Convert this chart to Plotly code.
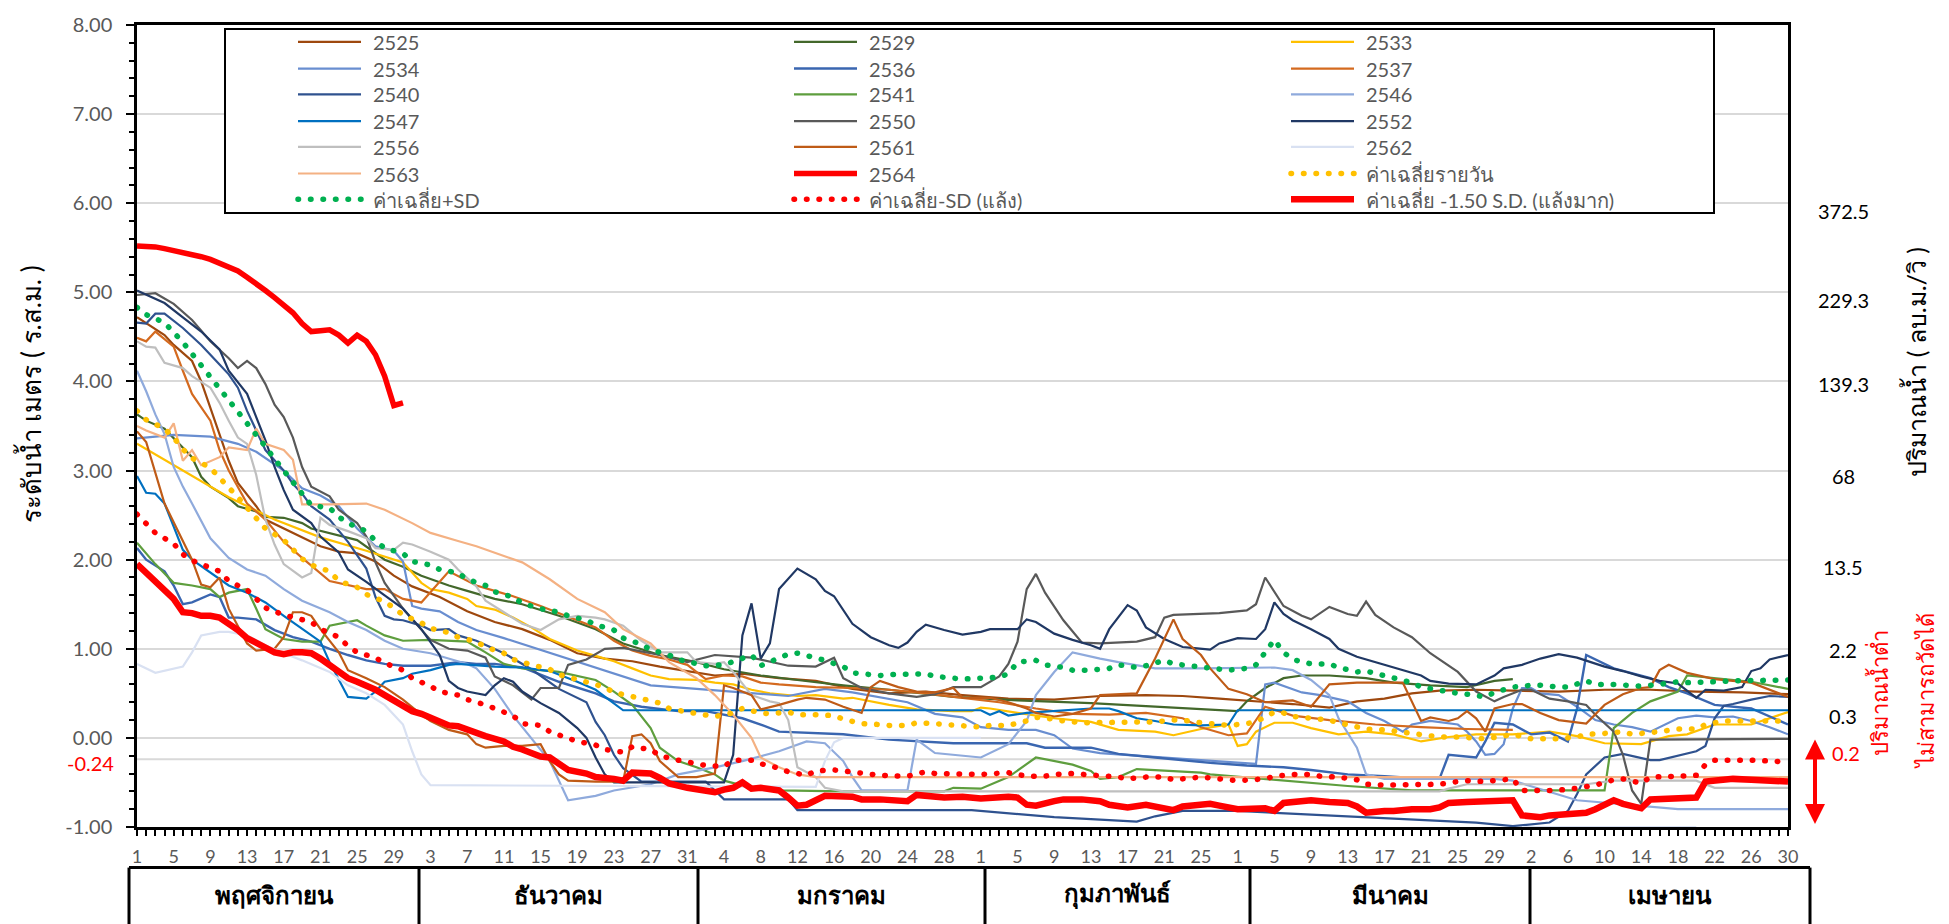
import plotly.graph_objects as go

# ---------------- axis labels ----------------
tick_days = list(range(0, 181, 4))
tick_labels = ["1", "5", "9", "13", "17", "21", "25", "29",
               "3", "7", "11", "15", "19", "23", "27", "31",
               "4", "8", "12", "16", "20", "24", "28",
               "1", "5", "9", "13", "17", "21", "25",
               "1", "5", "9", "13", "17", "21", "25", "29",
               "2", "6", "10", "14", "18", "22", "26", "30"]
y_ticks = [-1, 0, 1, 2, 3, 4, 5, 6, 7, 8]
y_tick_text = ["-1.00", "0.00", "1.00", "2.00", "3.00", "4.00", "5.00", "6.00", "7.00", "8.00"]
months = ["พฤศจิกายน", "ธันวาคม", "มกราคม", "กุมภาพันธ์", "มีนาคม", "เมษายน"]
flow_labels = ["372.5", "229.3", "139.3", "68", "13.5", "2.2", "0.3"]
low_flow_label = "0.2"
ref_level = -0.24

# ---------------- series (day index from 1 Nov, level m) ----------------
s2525 = [(0,4.72),(1,4.65),(3,4.52),(4,4.41),(6,4.23),(7,4.0),(8,3.71),(9,3.41),(10,3.11),(11,2.86),(13,2.6),(14,2.45),
         (16,2.35),(18,2.25),(20,2.15),(22,2.09),(24,2.07),(26,1.98),(28,1.82),(30,1.70),(33,1.58),(36,1.42),(39,1.30),
         (42,1.22),(45,1.10),(48,0.95),(51,0.89),(54,0.86),(57,0.80),(60,0.75),(63,0.70),(66,0.72),(70,0.67),(74,0.64),
         (78,0.55),(82,0.50),(86,0.52),(90,0.48),(95,0.44),(100,0.43),(105,0.47),(110,0.48),(114,0.47),(118,0.44),
         (122,0.41),(126,0.38),(130,0.34),(133,0.41),(136,0.44),(139,0.50),(142,0.53),(146,0.54),(150,0.53),(155,0.52),
         (160,0.54),(165,0.54),(170,0.52),(175,0.51),(180,0.49)]
s2529 = [(0,3.63),(1,3.56),(3,3.47),(4,3.36),(6,3.15),(7,2.93),(8,2.82),(10,2.69),(11,2.60),(13,2.54),(14,2.48),(16,2.47),
         (18,2.41),(19,2.35),(21,2.30),(24,2.22),(27,2.0),(29,1.92),(31,1.82),(34,1.71),(36,1.65),(39,1.56),(42,1.50),
         (46,1.37),(50,1.22),(53,1.06),(57,0.93),(61,0.85),(64,0.77),(68,0.70),(72,0.65),(77,0.59),(82,0.54),(89,0.46),
         (96,0.42),(104,0.39),(111,0.35),(117,0.32),(120,0.30),(121,0.41),(123,0.56),(125,0.67),(127,0.70),(130,0.70),
         (134,0.67),(137,0.62),(141,0.59),(145,0.57),(148,0.64),(150,0.66)]
s2533 = [(0,3.30),(5,3.0),(10,2.70),(15,2.45),(20,2.25),(25,2.10),(29,1.97),(31,1.74),(32,1.67),(34,1.63),(36,1.56),
         (37,1.48),(39,1.44),(41,1.35),(43,1.24),(45,1.11),(48,0.98),(50,0.92),(52,0.86),(54,0.78),(56,0.70),(58,0.66),
         (61,0.65),(63,0.62),(65,0.60),(67,0.54),(69,0.50),(72,0.47),(74,0.48),(77,0.44),(78,0.45),(82,0.37),(85,0.32),
         (89,0.30),(91,0.30),(92,0.34),(93,0.33),(96,0.28),(100,0.22),(104,0.18),(107,0.09),(111,0.07),(113,0.03),
         (116,0.10),(119,0.15),(120,-0.09),(121,-0.07),(122,0.07),(124,0.17),(126,0.17),(128,0.11),(131,0.04),(134,0.07),
         (137,0.04),(140,-0.04),(143,0.01),(146,0.04),(150,0.04),(154,0.07),(157,0.02),(160,-0.06),(164,-0.07),(167,0.02),
         (169,0.04),(172,0.15),(176,0.15),(180,0.29)]
s2534 = [(0,3.36),(4,3.40),(8,3.38),(11,3.30),(13,3.21),(16,3.0),(18,2.80),(20,2.72),(22,2.60),(24,2.35),(26,2.15),
         (28,2.10),(29,1.98),(30,1.48),(31,1.45),(33,1.42),(35,1.30),(37,1.21),(40,1.12),(43,1.02),(46,0.92),(49,0.82),
         (52,0.72),(56,0.59),(61,0.55),(66,0.51),(71,0.47),(75,0.55),(78,0.51),(84,0.40),(87,0.27),(90,0.23),(92,0.12),
         (95,0.09),(98,0.09),(100,0.03),(102,-0.12),(105,-0.17),(110,-0.21),(116,-0.25),(122,-0.29),(123,0.60),(124,0.62),
         (127,0.51),(129,0.48),(132,0.41),(134,0.28),(136,0.19),(138,0.07),(139,0.15),(141,0.19),(144,0.15),(145,0.07),
         (146,-0.04),(147,-0.19),(148,-0.18),(149,-0.07),(150,0.33),(151,0.56),(152,0.56),(153,0.50),(155,0.48),(157,0.35),
         (159,0.20),(161,0.15),(163,0.12),(165,0.07),(168,0.22),(170,0.25),(172,0.23),(174,0.24),(176,0.19),(178,0.12),(180,0.04)]
s2536 = [(0,2.13),(1,2.0),(3,1.87),(4,1.71),(5,1.50),(6,1.52),(8,1.61),(9,1.58),(10,1.35),(11,1.35),(13,1.33),(15,1.21),
         (17,1.13),(19,1.08),(21,1.0),(23,0.93),(25,0.87),(27,0.83),(29,0.81),(32,0.81),(35,0.85),(37,0.83),(39,0.83),
         (42,0.79),(46,0.63),(50,0.50),(52,0.41),(55,0.35),(59,0.30),(62,0.30),(66,0.22),(68,0.15),(70,0.07),(77,0.04),
         (82,-0.02),(89,-0.06),(97,-0.06),(99,-0.11),(104,-0.11),(107,-0.18),(111,-0.22),(114,-0.25),(117,-0.28),(121,-0.31),
         (125,-0.33),(128,-0.36),(132,-0.41),(136,-0.43),(139,-0.45),(142,-0.46),(143,-0.19),(146,-0.22),(147,-0.04),
         (148,0.17),(150,0.15),(152,0.04),(154,0.06),(156,-0.04),(157,0.33),(158,0.93),(161,0.78),(165,0.67),(167,0.57),
         (169,0.50),(172,0.37),(176,0.33),(180,0.15)]
s2537 = [(0,4.49),(1,4.45),(2,4.56),(4,4.39),(5,4.12),(6,3.86),(8,3.56),(9,3.23),(10,3.0),(11,2.82),(12,2.63),(14,2.45),
         (16,2.20),(18,2.02),(21,1.76),(25,1.67),(27,1.67),(29,1.56),(31,1.52),(34,1.87),(37,1.71),(39,1.65),(41,1.59),
         (44,1.48),(47,1.36),(50,1.24),(52,1.09),(54,0.98),(56,0.92),(58,0.88),(60,0.82),(62,0.66),(64,0.70),(66,0.69),
         (68,0.62),(70,0.60),(74,0.57),(78,0.56),(82,0.54),(86,0.50),(90,0.45),(94,0.40),(98,0.33),(102,0.27),(106,0.26),
         (110,0.28),(114,0.22),(116,0.12),(119,0.03),(121,0.05),(123,0.35),(126,0.25),(130,0.20),(135,0.15),(140,0.12),
         (145,0.10),(150,0.09)]
s2540 = [(0,4.66),(1,4.65),(2,4.76),(3,4.76),(5,4.60),(7,4.41),(9,4.19),(10,4.08),(11,3.93),(12,3.67),(13,3.45),(14,3.23),
         (16,3.0),(17,2.85),(18,2.74),(19,2.60),(21,2.45),(23,2.20),(25,1.90),(26,1.58),(27,1.37),(28,1.33),(29,1.32),
         (31,1.26),(32,1.21),(34,1.22),(35,1.15),(37,1.09),(40,0.95),(43,0.77),(46,0.55),(49,0.40),(50,0.18),(51,0.03),
         (52,-0.19),(53,-0.34),(55,-0.49),(62,-0.49),(64,-0.69),(71,-0.69),(72,-0.81),(91,-0.81),(100,-0.89),(109,-0.94),
         (111,-0.88),(114,-0.82),(120,-0.82),(126,-0.85),(132,-0.88),(140,-0.92),(146,-0.95),(150,-0.99),(154,-0.95),
         (156,-0.82),(157,-0.63),(158,-0.41),(160,-0.22),(162,-0.18),(165,-0.25),(166,-0.25),(168,-0.20),(170,-0.15),
         (171,-0.09),(172,0.22),(173,0.36),(174,0.38),(176,0.43),(178,0.47),(180,0.46)]
s2541 = [(0,2.19),(2,1.95),(4,1.74),(6,1.71),(8,1.67),(9,1.58),(10,1.63),(12,1.67),(13,1.45),(14,1.22),(16,1.11),(18,1.08),
         (20,1.08),(21,1.26),(24,1.32),(25,1.26),(27,1.15),(29,1.09),(32,1.10),(34,1.09),(36,1.08),(37,1.02),(38,0.96),
         (40,0.83),(42,0.78),(46,0.74),(50,0.65),(52,0.52),(54,0.37),(56,0.11),(57,-0.11),(59,-0.26),(61,-0.33),(63,-0.41),
         (64,-0.48),(67,-0.56),(70,-0.59),(77,-0.60),(88,-0.60),(89,-0.56),(92,-0.57),(95,-0.44),(98,-0.22),(102,-0.30),
         (104,-0.37),(105,-0.46),(107,-0.44),(109,-0.35),(113,-0.37),(116,-0.39),(117,-0.41),(125,-0.48),(132,-0.54),
         (139,-0.59),(149,-0.59),(160,-0.59),(161,0.11),(163,0.28),(165,0.41),(168,0.52),(169,0.70),(172,0.67),(176,0.63),(180,0.55)]
s2546 = [(0,4.12),(1,3.89),(2,3.63),(3,3.41),(4,3.04),(5,2.82),(6,2.63),(8,2.24),(10,2.02),(12,1.89),(14,1.82),(16,1.67),
         (18,1.54),(21,1.41),(23,1.30),(25,1.21),(27,1.09),(29,1.0),(32,0.95),(34,0.89),(36,0.83),(37,0.78),(39,0.55),
         (41,0.25),(43,0.0),(45,-0.26),(47,-0.70),(50,-0.65),(52,-0.59),(56,-0.52),(59,-0.41),(63,-0.33),(66,-0.26),
         (70,-0.15),(73,-0.04),(75,-0.06),(77,-0.26),(78,-0.44),(79,-0.59),(84,-0.59),(85,-0.02),(87,-0.17),(92,-0.22),
         (95,-0.07),(97,0.19),(98,0.48),(100,0.74),(102,0.96),(105,0.89),(107,0.85),(111,0.78),(116,0.78),(124,0.79),
         (126,0.76),(128,0.65),(130,0.48),(131,0.22),(133,-0.11),(134,-0.41),(136,-0.46),(148,-0.46),(150,-0.48),
         (157,-0.70),(168,-0.80),(180,-0.80)]
s2547 = [(0,2.94),(1,2.75),(2,2.74),(3,2.63),(4,2.37),(5,2.11),(6,2.0),(8,1.85),(9,1.78),(10,1.71),(12,1.63),(14,1.52),
         (16,1.37),(18,1.22),(20,1.08),(21,0.85),(23,0.46),(25,0.44),(26,0.52),(27,0.63),(29,0.67),(30,0.72),(32,0.76),
         (34,0.82),(35,0.83),(39,0.80),(42,0.79),(45,0.75),(48,0.63),(50,0.54),(52,0.39),(53,0.31),(92,0.31),(93,0.26),
         (94,0.30),(95,0.25),(97,0.28),(100,0.30),(104,0.33),(106,0.33),(107,0.30),(109,0.22),(111,0.19),(113,0.15),
         (116,0.14),(119,0.15),(120,0.31),(180,0.31)]
s2550 = [(0,4.97),(2,4.99),(4,4.87),(6,4.69),(8,4.45),(10,4.26),(11,4.15),(12,4.23),(13,4.15),(14,3.97),(15,3.74),(16,3.60),
         (17,3.37),(18,3.04),(19,2.82),(21,2.71),(22,2.56),(24,2.41),(25,2.26),(26,1.97),(27,1.74),(28,1.59),(29,1.45),
         (30,1.33),(32,1.10),(34,1.0),(36,0.98),(38,0.90),(39,0.69),(41,0.59),(43,0.43),(44,0.56),(46,0.56),(47,0.82),
         (49,0.88),(51,1.0),(53,1.01),(57,0.93),(60,0.85),(63,0.93),(67,0.90),(71,0.81),(74,0.80),(76,0.90),(77,0.67),
         (79,0.56),(82,0.50),(85,0.46),(87,0.49),(89,0.57),(92,0.57),(94,0.69),(95,0.83),(96,1.08),(97,1.67),(98,1.84),
         (99,1.63),(101,1.32),(103,1.07),(105,1.06),(109,1.08),(111,1.13),(112,1.35),(113,1.38),(116,1.39),(118,1.40),
         (121,1.43),(122,1.50),(123,1.80),(125,1.48),(127,1.37),(128,1.33),(130,1.47),(132,1.39),(133,1.37),(134,1.53),
         (135,1.38),(137,1.24),(139,1.13),(141,0.95),(144,0.74),(146,0.52),(148,0.41),(149,0.46),(151,0.54),(152,0.54),
         (154,0.44),(156,0.41),(158,0.37),(159,0.26),(161,0.07),(162,-0.19),(163,-0.59),(164,-0.74),(165,-0.02),(180,-0.01)]
s2552 = [(0,5.02),(3,4.88),(5,4.72),(7,4.56),(9,4.36),(10,4.12),(12,3.86),(13,3.60),(14,3.34),(15,3.04),(16,2.78),(17,2.56),
         (19,2.41),(20,2.26),(22,2.08),(23,1.89),(25,1.75),(27,1.60),(29,1.45),(31,1.22),(32,1.08),(33,0.93),(34,0.64),
         (35,0.56),(36,0.52),(38,0.48),(39,0.59),(40,0.67),(41,0.63),(42,0.52),(44,0.39),(46,0.28),(48,0.11),(49,0.0),
         (50,-0.22),(51,-0.41),(52,-0.50),(64,-0.50),(65,-0.19),(66,1.15),(67,1.51),(68,0.89),(69,1.06),(70,1.67),(72,1.90),
         (74,1.78),(75,1.65),(76,1.59),(78,1.28),(80,1.13),(82,1.04),(83,1.01),(84,1.07),(85,1.19),(86,1.27),(88,1.21),
         (90,1.16),(92,1.19),(93,1.22),(96,1.22),(97,1.33),(98,1.30),(100,1.17),(102,1.10),(104,1.04),(105,1.00),(106,1.22),
         (108,1.49),(109,1.43),(110,1.24),(112,1.11),(114,1.02),(115,1.01),(117,0.99),(118,1.06),(120,1.12),(122,1.11),
         (123,1.22),(124,1.52),(125,1.39),(126,1.32),(128,1.22),(130,1.11),(131,1.0),(133,0.91),(135,0.85),(136,0.82),
         (138,0.76),(140,0.70),(141,0.64),(143,0.61),(146,0.60),(148,0.70),(149,0.78),(151,0.82),(153,0.89),(155,0.94),
         (157,0.90),(160,0.80),(162,0.75),(164,0.69),(166,0.64),(168,0.61),(170,0.45),(171,0.54),(173,0.53),(175,0.57),
         (176,0.75),(177,0.78),(178,0.88),(180,0.93)]
s2556 = [(0,4.45),(1,4.39),(2,4.38),(3,4.21),(5,4.15),(6,4.06),(8,3.93),(9,3.76),(10,3.56),(11,3.37),(12,3.30),(13,2.95),
         (14,2.45),(15,2.17),(16,1.95),(18,1.80),(19,1.85),(20,2.47),(21,2.39),(23,2.32),(25,2.24),(26,2.13),(28,2.11),
         (29,2.19),(30,2.17),(32,2.09),(34,2.0),(35,1.89),(37,1.70),(38,1.54),(40,1.41),(42,1.28),(44,1.21),(46,1.33),
         (48,1.37),(50,1.35),(51,1.33),(53,1.26),(55,1.09),(57,0.96),(60,0.96),(61,0.85),(63,0.83),(64,0.85),(65,0.74),
         (67,0.48),(69,0.41),(70,0.39),(71,0.20),(72,-0.33),(74,-0.44),(75,-0.56),(77,-0.60),(142,-0.60),(143,-0.57),
         (145,-0.52),(158,-0.52),(161,-0.48),(170,-0.48),(172,-0.56),(180,-0.56)]
s2561 = [(0,3.44),(1,3.32),(3,2.63),(5,2.22),(6,2.0),(7,1.72),(8,1.69),(9,1.80),(10,1.45),(12,1.06),(13,0.98),(15,1.00),
         (16,1.13),(17,1.41),(18,1.41),(19,1.37),(20,1.22),(22,0.96),(23,0.76),(25,0.67),(27,0.57),(29,0.43),(31,0.26),
         (32,0.19),(34,0.09),(36,0.04),(37,-0.07),(38,-0.11),(40,-0.09),(42,-0.09),(44,-0.07),(45,-0.26),(46,-0.41),
         (47,-0.48),(50,-0.49),(53,-0.49),(54,0.02),(55,0.04),(56,-0.06),(57,-0.26),(59,-0.44),(61,-0.44),(63,-0.40),
         (64,0.59),(65,0.56),(67,0.48),(68,0.32),(70,0.37),(72,0.43),(73,0.45),(75,0.43),(77,0.35),(79,0.28),(80,0.57),
         (81,0.64),(83,0.57),(85,0.52),(87,0.51),(89,0.56),(90,0.45),(93,0.45),(95,0.40),(97,0.33),(98,0.28),(100,0.24),
         (102,0.27),(104,0.33),(105,0.48),(107,0.49),(109,0.50),(111,0.89),(113,1.33),(114,1.11),(116,0.93),(117,0.78),
         (119,0.55),(121,0.49),(123,0.40),(126,0.42),(128,0.35),(130,0.60),(133,0.62),(138,0.62),(140,0.19),(141,0.23),
         (143,0.19),(144,0.22),(145,0.30),(146,0.22),(147,0.07),(148,0.33),(150,0.38),(151,0.38),(153,0.28),(155,0.20),
         (158,0.16),(160,0.37),(162,0.49),(164,0.56),(165,0.57),(166,0.76),(167,0.82),(169,0.73),(172,0.66),(176,0.62),
         (178,0.54),(180,0.46)]
s2562 = [(0,0.83),(2,0.73),(5,0.80),(6,0.96),(7,1.15),(9,1.19),(10,1.19),(12,1.15),(14,1.04),(16,0.95),(18,0.87),(21,0.74),
         (23,0.59),(25,0.50),(27,0.37),(29,0.15),(30,-0.15),(31,-0.41),(32,-0.53),(74,-0.55),(75,-0.26),(76,-0.05),(77,0.0),
         (92,0.0),(93,None),(151,-1.0),(170,-1.0)]
s2563 = [(0,3.50),(1,3.45),(3,3.37),(4,3.53),(5,3.11),(6,3.23),(7,3.06),(9,3.15),(10,3.26),(12,3.23),(13,3.47),(14,3.30),
         (16,3.23),(17,3.12),(18,2.62),(21,2.62),(25,2.63),(27,2.56),(30,2.41),(32,2.30),(35,2.21),(37,2.15),(42,1.97),
         (45,1.78),(48,1.56),(51,1.41),(53,1.22),(56,1.06),(58,0.85),(61,0.67),(63,0.48),(65,0.26),(67,0.0),(68,-0.22),
         (70,-0.33),(72,-0.41),(74,-0.44),(180,-0.44)]
s2564 = [(0,5.52),(1,5.52),(2,5.51),(3,5.49),(4,5.47),(5,5.45),(6,5.42),(7,5.40),(8,5.37),(9,5.33),(10,5.29),(11,5.24),
         (12,5.17),(13,5.10),(14,5.02),(15,4.94),(16,4.86),(17,4.77),(18,4.65),(19,4.56),(20,4.57),(21,4.58),(22,4.52),
         (23,4.43),(24,4.52),(25,4.45),(26,4.30),(27,4.06),(28,3.73),(29,3.76)]
avg_daily = [(0,3.67),(1,3.57),(3,3.47),(4,3.37),(5,3.24),(6,3.14),(8,3.03),(9,2.93),(10,2.81),(11,2.70),(12,2.59),(13,2.48),
             (14,2.35),(16,2.22),(17,2.12),(18,2.01),(19,1.94),(21,1.87),(22,1.76),(24,1.69),(25,1.61),(27,1.53),(28,1.46),
             (29,1.38),(31,1.29),(32,1.23),(34,1.18),(35,1.13),(37,1.08),(38,1.02),(40,0.95),(41,0.88),(43,0.82),(45,0.77),
             (46,0.71),(48,0.66),(49,0.62),(51,0.57),(52,0.51),(54,0.47),(55,0.44),(57,0.39),(58,0.33),(60,0.29),(62,0.26),
             (63,0.24),(65,0.28),(66,0.33),(68,0.28),(69,0.27),(71,0.29),(72,0.26),(74,0.26),(76,0.25),(77,0.21),(79,0.16),
             (81,0.15),(82,0.14),(84,0.14),(85,0.17),(87,0.16),(89,0.15),(90,0.14),(92,0.12),(93,0.14),(95,0.14),(97,0.19),
             (98,0.23),(100,0.21),(101,0.19),(103,0.17),(106,0.17),(108,0.18),(109,0.17),(111,0.18),(113,0.20),(114,0.20),
             (116,0.17),(118,0.16),(119,0.14),(121,0.16),(122,0.18),(124,0.29),(125,0.28),(126,0.24),(128,0.22),(130,0.20),
             (131,0.17),(133,0.13),(134,0.10),(136,0.09),(138,0.06),(139,0.04),(141,0.02),(142,0.01),(144,0.01),(146,0.0),
             (147,-0.01),(149,0.02),(150,0.04),(152,-0.01),(155,-0.01),(157,0.01),(158,0.04),(160,0.05),(162,0.07),(163,0.04),
             (165,0.05),(166,0.07),(168,0.10),(170,0.10),(171,0.15),(173,0.19),(180,0.19)]
avg_plus_sd = [(0,4.83),(1,4.75),(3,4.66),(4,4.56),(5,4.44),(6,4.31),(7,4.18),(8,4.05),(9,3.92),(10,3.79),(11,3.66),(12,3.55),
               (13,3.42),(14,3.27),(15,3.13),(16,3.00),(17,2.87),(18,2.73),(19,2.61),(21,2.58),(22,2.48),(23,2.41),(25,2.32),
               (26,2.21),(27,2.13),(29,2.07),(30,1.98),(32,1.94),(33,1.89),(35,1.85),(36,1.78),(38,1.71),(39,1.64),(41,1.58),
               (42,1.51),(44,1.45),(46,1.41),(47,1.37),(49,1.32),(50,1.27),(52,1.21),(53,1.12),(55,1.05),(56,0.99),(58,0.93),
               (59,0.88),(61,0.84),(62,0.81),(64,0.82),(65,0.86),(67,0.93),(68,0.81),(69,0.85),(71,0.94),(72,0.95),(74,0.90),
               (75,0.87),(77,0.80),(78,0.73),(79,0.72),(81,0.70),(82,0.71),(84,0.72),(86,0.72),(87,0.69),(89,0.67),(90,0.66),
               (92,0.67),(94,0.68),(95,0.72),(96,0.85),(98,0.87),(99,0.82),(101,0.79),(102,0.76),(104,0.76),(106,0.78),
               (107,0.82),(109,0.79),(110,0.81),(112,0.87),(113,0.83),(115,0.81),(116,0.80),(118,0.77),(119,0.76),(121,0.78),
               (122,0.82),(123,0.96),(124,1.10),(125,0.96),(126,0.88),(128,0.83),(130,0.83),(131,0.79),(133,0.74),(134,0.75),
               (136,0.70),(137,0.66),(139,0.62),(140,0.57),(142,0.53),(144,0.50),(145,0.49),(147,0.46),(148,0.51),(150,0.57),
               (152,0.59),(153,0.59),(155,0.57),(156,0.57),(158,0.64),(159,0.60),(161,0.60),(163,0.59),(164,0.58),(166,0.60),
               (168,0.63),(169,0.62),(171,0.62),(172,0.63),(174,0.64),(177,0.64),(180,0.65)]
avg_minus_sd = [(0,2.51),(1,2.41),(2,2.30),(4,2.18),(5,2.06),(6,1.99),(8,1.92),(9,1.87),(10,1.76),(12,1.66),(13,1.56),
                (14,1.46),(16,1.38),(17,1.35),(19,1.30),(20,1.22),(22,1.13),(23,1.03),(24,0.96),(26,0.90),(27,0.84),(29,0.76),
                (30,0.67),(32,0.58),(33,0.52),(35,0.48),(36,0.43),(38,0.37),(39,0.33),(41,0.25),(42,0.16),(44,0.14),(45,0.07),
                (47,0.0),(48,-0.04),(50,-0.08),(51,-0.13),(53,-0.16),(54,-0.10),(56,-0.13),(57,-0.20),(59,-0.25),(61,-0.29),
                (62,-0.31),(64,-0.32),(65,-0.25),(67,-0.25),(68,-0.29),(70,-0.34),(71,-0.38),(73,-0.42),(74,-0.37),(76,-0.36),
                (78,-0.38),(79,-0.40),(81,-0.42),(84,-0.43),(86,-0.38),(87,-0.40),(92,-0.41),(95,-0.39),(97,-0.43),(99,-0.43),
                (100,-0.41),(102,-0.40),(105,-0.42),(107,-0.44),(108,-0.46),(110,-0.44),(112,-0.44),(113,-0.47),(115,-0.45),
                (116,-0.44),(118,-0.46),(120,-0.48),(123,-0.46),(124,-0.43),(126,-0.41),(128,-0.41),(129,-0.43),(131,-0.44),
                (133,-0.47),(134,-0.52),(136,-0.53),(141,-0.53),(142,-0.52),(144,-0.49),(145,-0.48),(147,-0.49),(149,-0.47),
                (150,-0.46),(151,-0.59),(153,-0.60),(154,-0.59),(156,-0.58),(158,-0.55),(159,-0.53),(161,-0.47),(162,-0.46),
                (164,-0.51),(165,-0.44),(168,-0.43),(170,-0.42),(171,-0.30),(172,-0.25),(176,-0.25),(178,-0.26),(180,-0.27)]
avg_minus_15sd = [(0,1.95),(1,1.85),(2,1.74),(3,1.65),(4,1.56),(5,1.41),(6,1.40),(7,1.37),(8,1.37),(9,1.35),(10,1.29),
                  (11,1.21),(12,1.12),(13,1.06),(14,1.00),(15,0.96),(16,0.94),(17,0.96),(18,0.96),(19,0.95),(20,0.89),(21,0.81),
                  (22,0.74),(23,0.67),(24,0.63),(25,0.59),(26,0.54),(27,0.48),(28,0.42),(29,0.36),(30,0.30),(31,0.27),(32,0.23),
                  (33,0.19),(34,0.14),(35,0.13),(36,0.09),(37,0.06),(38,0.02),(40,-0.04),(41,-0.10),(42,-0.13),(43,-0.18),
                  (44,-0.21),(45,-0.22),(46,-0.28),(47,-0.36),(49,-0.40),(50,-0.44),(52,-0.46),(53,-0.48),(54,-0.39),(56,-0.40),
                  (57,-0.45),(58,-0.51),(60,-0.56),(61,-0.58),(63,-0.61),(64,-0.58),(65,-0.56),(66,-0.50),(67,-0.57),(68,-0.56),
                  (70,-0.59),(71,-0.67),(72,-0.76),(73,-0.75),(74,-0.70),(75,-0.65),(78,-0.66),(79,-0.69),(81,-0.69),(83,-0.70),
                  (84,-0.71),(85,-0.64),(87,-0.67),(88,-0.67),(90,-0.66),(92,-0.68),(95,-0.66),(96,-0.67),(97,-0.75),(98,-0.76),
                  (100,-0.71),(101,-0.69),(103,-0.69),(105,-0.71),(106,-0.75),(108,-0.78),(110,-0.75),(111,-0.77),(113,-0.81),
                  (114,-0.77),(115,-0.76),(117,-0.74),(118,-0.76),(120,-0.80),(123,-0.79),(124,-0.82),(125,-0.73),(127,-0.72),
                  (128,-0.70),(130,-0.72),(132,-0.73),(133,-0.77),(134,-0.84),(136,-0.82),(137,-0.82),(139,-0.80),(141,-0.80),
                  (142,-0.78),(143,-0.73),(145,-0.72),(148,-0.71),(150,-0.70),(151,-0.87),(153,-0.89),(154,-0.87),(156,-0.85),
                  (158,-0.84),(159,-0.80),(160,-0.75),(161,-0.70),(162,-0.74),(164,-0.79),(165,-0.69),(167,-0.68),(170,-0.67),
                  (171,-0.49),(173,-0.47),(174,-0.46),(176,-0.47),(178,-0.48),(180,-0.49)]

# ---------------- styling table ----------------
DOT = "0.5px,12px"   # drawn with round caps (see post_script) -> round dots
series = [
    ("2525", s2525, "#9E480E", 2.2, "solid"),
    ("2529", s2529, "#43682B", 2.2, "solid"),
    ("2533", s2533, "#FFC000", 2.2, "solid"),
    ("2534", s2534, "#698ED0", 2.2, "solid"),
    ("2536", s2536, "#3A66B0", 2.4, "solid"),
    ("2537", s2537, "#D46A1F", 2.2, "solid"),
    ("2540", s2540, "#2F528F", 2.2, "solid"),
    ("2541", s2541, "#5E9E3E", 2.2, "solid"),
    ("2546", s2546, "#8FAADC", 2.2, "solid"),
    ("2547", s2547, "#0070C0", 2.2, "solid"),
    ("2550", s2550, "#595959", 2.2, "solid"),
    ("2552", s2552, "#203864", 2.2, "solid"),
    ("2556", s2556, "#BFBFBF", 2.2, "solid"),
    ("2561", s2561, "#BF5B17", 2.2, "solid"),
    ("2562", s2562, "#D9E1F2", 2.2, "solid"),
    ("2563", s2563, "#F4B183", 2.2, "solid"),
    ("2564", s2564, "#FF0000", 5.5, "solid"),
    ("ค่าเฉลี่ยรายวัน", avg_daily, "#FFC000", 5.5, DOT),
    ("ค่าเฉลี่ย+SD", avg_plus_sd, "#00B050", 5.5, DOT),
    ("ค่าเฉลี่ย-SD (แล้ง)", avg_minus_sd, "#FF0000", 5.5, DOT),
    ("ค่าเฉลี่ย -1.50 S.D. (แล้งมาก)", avg_minus_15sd, "#FF0000", 6.5, "solid"),
]
draw_order = list(range(16)) + [17, 18, 19, 20, 16]

FONT = "Lato, 'Noto Sans', 'DejaVu Sans', sans-serif"
GRAY = "#595959"

# ---------------- pixel helpers (plot area in pixels) ----------------
W, H = 1949, 924
PL, PR, PT, PB = 137, 1788, 17, 827
def px(xp):
    return (xp - PL) / (PR - PL)
def py(yp):
    return (PB - yp) / (PB - PT)

fig = go.Figure()
for i in draw_order:
    name, data, color, width, dash = series[i]
    fig.add_trace(go.Scatter(
        x=[d for d, v in data], y=[v for d, v in data], mode="lines", name=name,
        line=dict(color=color, width=width, dash=dash), showlegend=False,
        connectgaps=False, hoverinfo="skip"))

shapes = []
annotations = []

def text_at(x, y, text, size, color, angle=0, xanchor="center"):
    annotations.append(dict(xref="paper", yref="paper", x=px(x), y=py(y), text=text, textangle=angle,
                            showarrow=False, xanchor=xanchor, yanchor="middle",
                            font=dict(family=FONT, size=size, color=color)))

# reference gridline at -0.24
shapes.append(dict(type="line", xref="paper", yref="y", x0=0, x1=1, y0=ref_level, y1=ref_level,
                   line=dict(color="#D9D9D9", width=2), layer="below"))
annotations.append(dict(xref="paper", yref="y", x=px(116), y=ref_level - 0.04, text=f"{ref_level:.2f}",
                        showarrow=False, xanchor="right", yanchor="middle",
                        font=dict(family=FONT, size=20, color="#FF0000")))

# legend box
shapes.append(dict(type="rect", xref="paper", yref="paper", x0=px(225), x1=px(1714), y0=py(207), y1=py(21),
                   line=dict(color="black", width=2), fillcolor="white", layer="above"))
col_line_x = [295, 791, 1288]
row_y = [34, 61, 87, 114, 140, 167, 193]
for k, (name, data, color, width, dash) in enumerate(series):
    r, c = divmod(k, 3)
    x0 = col_line_x[c]
    shapes.append(dict(type="line", xref="paper", yref="paper", x0=px(x0 + 3), x1=px(x0 + 66),
                       y0=py(row_y[r]), y1=py(row_y[r]),
                       line=dict(color=color, width=width, dash=dash), layer="above"))
    text_at(x0 + 76, row_y[r], name, 20, GRAY, xanchor="left")

# month table below the axis
sep_x = [129, 419, 698, 985, 1250, 1530, 1810]
shapes.append(dict(type="line", xref="paper", yref="paper", x0=px(sep_x[0]), x1=px(sep_x[-1]),
                   y0=py(868), y1=py(868), line=dict(color="black", width=3)))
for sx in sep_x:
    shapes.append(dict(type="line", xref="paper", yref="paper", x0=px(sx), x1=px(sx),
                       y0=py(868), y1=py(940), line=dict(color="black", width=3)))
for m, name in enumerate(months):
    text_at((sep_x[m] + sep_x[m + 1]) / 2, 895, f"<b>{name}</b>", 24, "black")

# axis titles
text_at(30, 390, "ระดับน้ำ เมตร ( ร.ส.ม. )", 26, "black", angle=-90)
text_at(1915, 357, "ปริมาณน้ำ ( ลบ.ม./วิ )", 25, "black", angle=-90)

# discharge labels on the right
flow_y = [205, 295, 380, 472, 564, 648, 715]
for lab, yy in zip(flow_labels, flow_y):
    text_at(1843, yy, lab, 20, "black")
text_at(1846, 752, low_flow_label, 20, "#FF0000")
text_at(1879, 692, "ปริมาณน้ำต่ำ", 22, "#FF0000", angle=-90)
text_at(1925, 690, "ไม่สามารถวัดได้", 22, "#FF0000", angle=-90)
# double arrow
annotations.append(dict(xref="paper", yref="paper", x=px(1815), y=py(824), ax=0, ay=-86, text="",
                        showarrow=True, arrowhead=2, startarrowhead=2, arrowside="end+start",
                        arrowsize=1, startarrowsize=1, arrowwidth=4, arrowcolor="#FF0000"))

fig.update_layout(
    width=W, height=H, margin=dict(l=PL, r=W - PR, t=PT, b=H - PB),
    paper_bgcolor="white", plot_bgcolor="white", showlegend=False,
    shapes=shapes, annotations=annotations,
    font=dict(family=FONT, color=GRAY),
    xaxis=dict(range=[0, 180], tickmode="array", tickvals=tick_days, ticktext=tick_labels,
               ticks="outside", ticklen=6, tickwidth=1.5, tickcolor="black",
               showline=True, linecolor="black", linewidth=2.5, mirror=True,
               showgrid=False, zeroline=False, tickfont=dict(family=FONT, size=18, color=GRAY),
               ticklabelstandoff=6,
               minor=dict(tickmode="linear", tick0=0, dtick=1, ticks="outside", ticklen=6, tickwidth=1.5,
                          tickcolor="black", showgrid=False)),
    yaxis=dict(range=[-1, 8], tickmode="array", tickvals=y_ticks, ticktext=y_tick_text,
               ticks="outside", ticklen=8, tickwidth=1.5, tickcolor="black",
               showline=True, linecolor="black", linewidth=2.5, mirror=True,
               showgrid=True, gridcolor="#D9D9D9", gridwidth=2, zeroline=False,
               tickfont=dict(family=FONT, size=20, color=GRAY), ticklabelstandoff=10,
               minor=dict(tickmode="linear", tick0=0, dtick=0.2, ticks="outside", ticklen=5, tickwidth=1.5,
                          tickcolor="black", showgrid=False)),
)

round_dots_js = """
document.body.style.margin='0';
document.body.style.overflow='hidden';
function roundDots(){
  document.querySelectorAll('path').forEach(function(p){
    var d = (p.style.strokeDasharray || p.getAttribute('stroke-dasharray') || '').replace(/\\s/g,'');
    if (d.indexOf('0.5px,12px') === 0 || d.indexOf('0.5,12') === 0) { p.style.strokeLinecap = 'round'; }
  });
}
roundDots();
setTimeout(roundDots, 50);
"""
fig.write_html("out.html", config={"displayModeBar": False}, post_script=round_dots_js)
